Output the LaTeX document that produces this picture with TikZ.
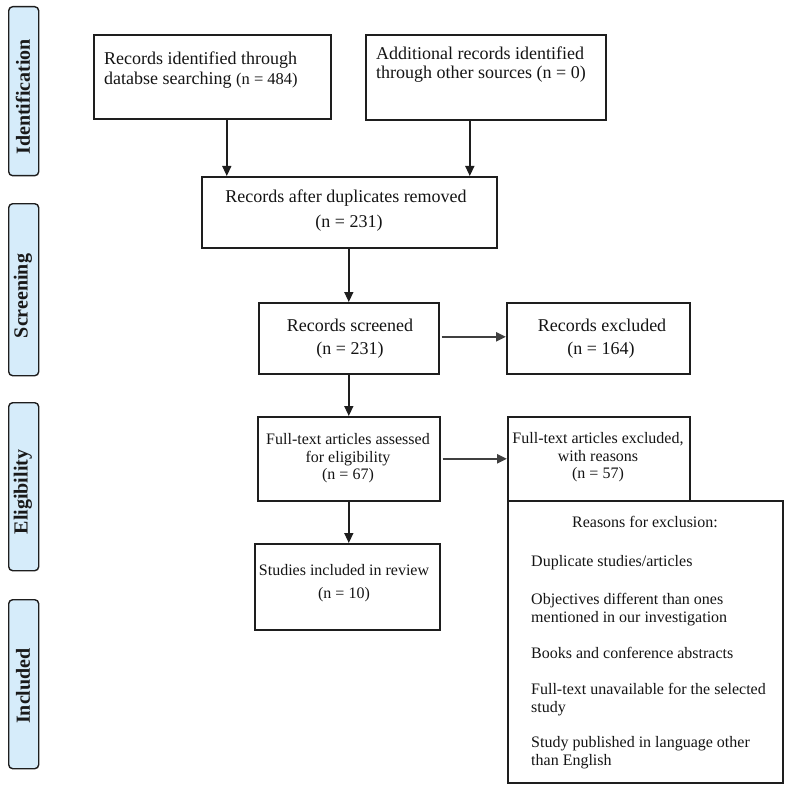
\documentclass[tikz,border=0pt]{standalone}
\usepackage{fontspec}
\setmainfont{Liberation Serif}
\usetikzlibrary{arrows.meta}
\definecolor{labblue}{RGB}{214,236,250}
\definecolor{ln}{RGB}{30,30,30}
\begin{document}
\begin{tikzpicture}[x=1pt,y=-1pt,
  box/.style={draw=ln, line width=1.6pt, inner sep=0pt, anchor=north west},
  lab/.style={draw=ln, line width=1.4pt, fill=labblue, rounded corners=4pt, inner sep=0pt, anchor=north west, minimum width=30pt},
  labtxt/.style={font=\fontsize{20pt}{22pt}\selectfont\bfseries, rotate=90, inner sep=0pt, text=black!90},
  big/.style={font=\fontsize{18pt}{20pt}\selectfont, inner sep=0pt, text=black!92},
  sml/.style={font=\fontsize{16pt}{18pt}\selectfont, inner sep=0pt, text=black!92},
  arr/.style={draw=ln, line width=1.4pt, -{Triangle[length=10pt,width=9pt]}},
  harr/.style={draw=ln!85, line width=2.4pt, -{Triangle[length=10pt,width=9pt]}}]
\useasboundingbox (0,0) rectangle (790,789);

% side labels
\node[lab, minimum height=169pt] (s1) at (8,6) {};
\node[labtxt] (s1t) at (23,97) {Identification};
\node[lab, minimum height=172pt] (s2) at (8,203) {};
\node[labtxt] (s2t) at (23,296) {Screening};
\node[lab, minimum height=168pt] (s3) at (8,402) {};
\node[labtxt] (s3t) at (23,492) {Eligibility};
\node[lab, minimum height=169pt] (s4) at (8,599) {};
\node[labtxt] (s4t) at (23,686) {Included};

% boxes
\node[box, minimum width=237pt, minimum height=84pt] (b1) at (93,34) {};
\node[big, anchor=base west] (b1a) at (104,65) {Records identified through};
\node[big, anchor=base west] (b1b) at (104,85) {databse searching {\fontsize{16.5pt}{18pt}\selectfont(n = 484)}};

\node[box, minimum width=240pt, minimum height=85pt] (b2) at (365,34) {};
\node[big, anchor=base west] (b2a) at (376,60) {Additional records identified};
\node[big, anchor=base west] (b2b) at (376,79) {through other sources (n = 0)};

\node[box, minimum width=295pt, minimum height=71pt] (dup) at (201,176) {};
\node[big, anchor=base] (dupa) at (346,202) {Records after duplicates removed};
\node[big, anchor=base] (dupb) at (349,227) {(n = 231)};

\node[box, minimum width=180pt, minimum height=71pt] (scr) at (258,302) {};
\node[big, anchor=base] (scra) at (350,331) {Records screened};
\node[big, anchor=base] (scrb) at (350,354) {(n = 231)};

\node[box, minimum width=183pt, minimum height=71pt] (exc) at (506,302) {};
\node[big, anchor=base] (exca) at (602,331) {Records excluded};
\node[big, anchor=base] (excb) at (601,354) {(n = 164)};

\node[box, minimum width=182pt, minimum height=84pt] (ft) at (257,416) {};
\node[sml, anchor=base] (fta) at (348,444) {Full-text articles assessed};
\node[sml, anchor=base] (ftb) at (348,462) {for eligibility};
\node[sml, anchor=base] (ftc) at (348,479) {(n = 67)};

\node[box, minimum width=182pt, minimum height=84pt] (fte) at (507,416) {};
\node[sml, anchor=base] (ftea) at (598,443) {Full-text articles excluded,};
\node[sml, anchor=base] (fteb) at (598,461) {with reasons};
\node[sml, anchor=base] (ftec) at (598,478) {(n = 57)};

\node[box, minimum width=275pt, minimum height=282pt] (rea) at (507,500) {};
\node[sml, anchor=base] (reah) at (645,527) {Reasons for exclusion:};
\node[sml, anchor=base west] (r1) at (531,566) {Duplicate studies/articles};
\node[sml, anchor=base west] (r2a) at (531,604) {Objectives different than ones};
\node[sml, anchor=base west] (r2b) at (531,622) {mentioned in our investigation};
\node[sml, anchor=base west] (r3) at (531,658) {Books and conference abstracts};
\node[sml, anchor=base west] (r4a) at (531,694) {Full-text unavailable for the selected};
\node[sml, anchor=base west] (r4b) at (531,712) {study};
\node[sml, anchor=base west] (r5a) at (531,747) {Study published in language other};
\node[sml, anchor=base west] (r5b) at (531,765) {than English};

\node[box, minimum width=185pt, minimum height=86pt] (stu) at (254,543) {};
\node[sml, anchor=base] (stua) at (344,575) {Studies included in review};
\node[sml, anchor=base] (stub) at (344,598) {(n = 10)};

% connectors
\draw[arr] ([xshift=14.5pt]b1.south) -- ([xshift=14.5pt]b1.south |- dup.north);
\draw[arr] ([xshift=-16pt]b2.south) -- ([xshift=-16pt]b2.south |- dup.north);
\draw[arr] ([xshift=-0.5pt]dup.south) -- ([xshift=-0.5pt]dup.south |- scr.north);
\draw[harr] ([xshift=2pt,yshift=1.5pt]scr.east) -- ([yshift=1.5pt]scr.east -| exc.west);
\draw[arr] (scr.south) -- (scr.south |- ft.north);
\draw[harr] ([xshift=2pt]ft.east) -- (ft.east -| fte.west);
\draw[arr] (ft.south) -- (ft.south |- stu.north);
\end{tikzpicture}
\end{document}
